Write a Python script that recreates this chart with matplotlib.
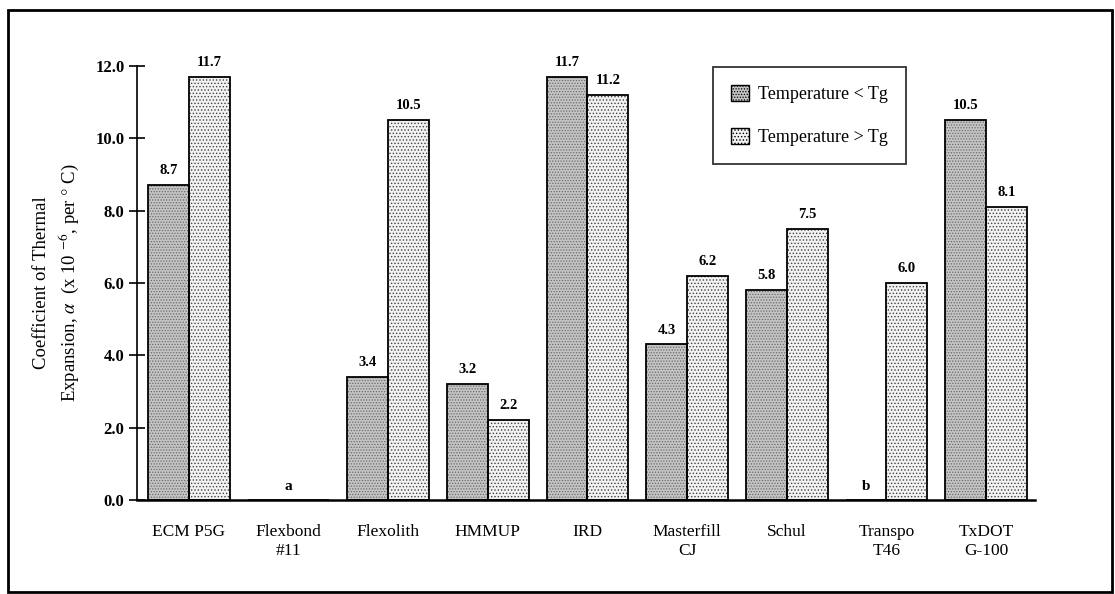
import numpy as np
import matplotlib
matplotlib.use("Agg")
import matplotlib.pyplot as plt
from matplotlib.patches import Rectangle

plt.rcParams['font.family'] = ['Liberation Serif', 'DejaVu Serif']
plt.rcParams['mathtext.fontset'] = 'stix'
plt.rcParams['hatch.linewidth'] = 0.6

categories = ["ECM P5G", "Flexbond\n#11", "Flexolith", "HMMUP", "IRD",
              "Masterfill\nCJ", "Schul", "Transpo\nT46", "TxDOT\nG-100"]
below_tg = [8.7, np.nan, 3.4, 3.2, 11.7, 4.3, 5.8, np.nan, 10.5]
above_tg = [11.7, np.nan, 10.5, 2.2, 11.2, 6.2, 7.5, 6.0, 8.1]
series_names = ["Temperature < Tg", "Temperature > Tg"]
missing_notes = {1: "a", 7: "b"}
yticks = [0, 2, 4, 6, 8, 10, 12]

fig = plt.figure(figsize=(11.15, 5.94), dpi=100)
ax = fig.add_axes([137/1115, 1-500/594, (1035-137)/1115, (500-66)/594])

x = np.arange(len(categories))
w = 0.41
styles = [dict(face='#c4c4c4', hatch='......', hcol='#6a6a6a'),
          dict(face='#f2f2f2', hatch='.....', hcol='#444444')]
handles = []
for k, (vals, st) in enumerate(zip([below_tg, above_tg], styles)):
    pos = x + (k - 0.5) * w
    v = np.nan_to_num(np.array(vals, dtype=float))
    ax.bar(pos, v, w, color=st['face'], hatch=st['hatch'],
           edgecolor=st['hcol'], linewidth=0, zorder=2)
    ax.bar(pos, v, w, fill=False, edgecolor='black', linewidth=1.3, zorder=3)
    for xi, val in zip(pos, vals):
        if not np.isnan(val):
            ax.text(xi, val + 0.22, f"{val:.1f}", ha='center', va='bottom',
                    fontsize=10.5, fontweight='bold')
    handles.append(Rectangle((0, 0), 1, 1, facecolor=st['face'], hatch=st['hatch'],
                             edgecolor='black', linewidth=1.0))

for i, note in missing_notes.items():
    xi = x[i] if i == 1 else x[i] - 0.5 * w
    ax.text(xi, 0.2, note, ha='center', va='bottom', fontsize=11, fontweight='bold')

ax.set_xlim(-0.52, 8.49)
ax.set_ylim(0, 12)
ax.set_yticks(yticks)
ax.set_yticklabels([f"{t:.1f}" for t in yticks], fontweight='bold', fontsize=12)
ax.tick_params(axis='y', direction='inout', length=12, width=1.2, pad=3)
ax.set_xticks(x)
ax.set_xticklabels(categories, fontsize=12.5, linespacing=1.3)
ax.tick_params(axis='x', length=0, pad=17)
for s in ['top', 'right']:
    ax.spines[s].set_visible(False)
ax.spines['left'].set_linewidth(1.2)
ax.spines['bottom'].set_linewidth(1.8)
ax.set_ylabel("Coefficient of Thermal\nExpansion, $\\alpha$  (x 10 $^{-6}$, per $\\degree$ C)",
              fontsize=13.5, labelpad=10, linespacing=1.35)

leg = ax.legend(handles, series_names, loc='upper left',
                bbox_to_anchor=((713-137)/898, 0.998), borderaxespad=0,
                fontsize=13, frameon=True, fancybox=False, edgecolor='black',
                handlelength=1.0, handleheight=1.0, labelspacing=1.35,
                borderpad=1.0, handletextpad=0.5)
leg.get_frame().set_linewidth(1.3)

fig.patches.append(Rectangle((8/1115, 1-592/594), (1112-8)/1115, (592-10)/594,
                             transform=fig.transFigure, fill=False,
                             edgecolor='black', linewidth=2))

fig.savefig("out.png", dpi=100)
